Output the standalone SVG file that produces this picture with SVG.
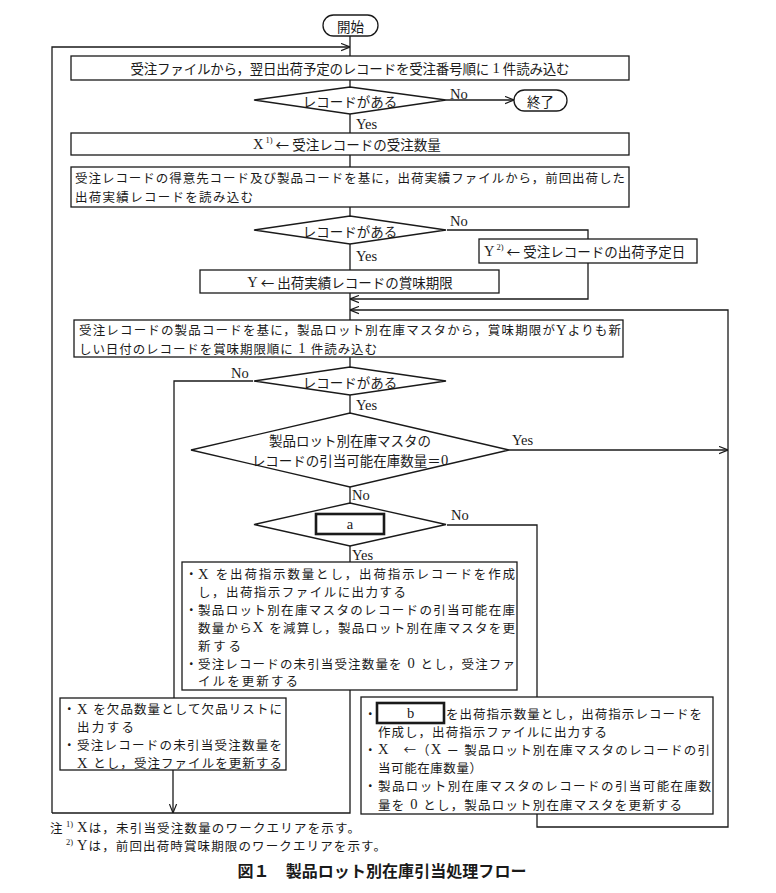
<svg xmlns="http://www.w3.org/2000/svg" width="776" height="893" viewBox="0 0 776 893">
<style>
.box{fill:#fff;stroke:#1a1a1a;stroke-width:1.3}
.thick{fill:#fff;stroke:#1a1a1a;stroke-width:2.6}
.ln{fill:none;stroke:#1a1a1a;stroke-width:1.3}
.t{font-family:"Noto Sans CJK JP","Liberation Sans",sans-serif;font-size:13.5px;fill:#1a1a1a;dominant-baseline:central}
.m{font-size:12.5px}
.c{text-anchor:middle}
.lat{font-family:"Liberation Serif",serif;font-size:14.5px}
.lbl{font-family:"Liberation Serif","Noto Sans CJK JP",serif;font-size:14.5px;fill:#1a1a1a;dominant-baseline:central}
.sup{font-family:"Liberation Serif",serif;font-size:8.5px}
.title{font-family:"Noto Sans CJK JP",sans-serif;font-size:16px;font-weight:bold;fill:#1a1a1a;text-anchor:middle;dominant-baseline:central}
</style>
<defs>
<marker id="arr" viewBox="0 0 10 10" refX="10" refY="5" markerWidth="9" markerHeight="9" orient="auto" markerUnits="userSpaceOnUse">
<path d="M0,1 L10,5 L0,9" fill="none" stroke="#1a1a1a" stroke-width="1.3"/>
</marker>
</defs>
<rect x="0" y="0" width="776" height="893" fill="#fff"/>

<g id="connectors">
<path class="ln" d="M350,36 V56"/>
<path class="ln" d="M52,813 V47 H350" marker-end="url(#arr)"/>
<path class="ln" d="M350,80 V87"/>
<path class="ln" d="M446,100 H514" marker-end="url(#arr)"/>
<path class="ln" d="M350,114 V133"/>
<path class="ln" d="M350,155 V167"/>
<path class="ln" d="M350,207 V216"/>
<path class="ln" d="M447,230 H588 V239"/>
<path class="ln" d="M588,263 V299 H350" marker-end="url(#arr)"/>
<path class="ln" d="M350,244 V270"/>
<path class="ln" d="M350,293 V320"/>
<path class="ln" d="M447,525 H537 V827 H728 V310 H350" marker-end="url(#arr)"/>
<path class="ln" d="M350,357 V367"/>
<path class="ln" d="M253,381 H174 V698"/>
<path class="ln" d="M350,395 V413"/>
<path class="ln" d="M509,450 H728" marker-end="url(#arr)"/>
<path class="ln" d="M350,487 V503"/>
<path class="ln" d="M350,546 V562"/>
<path class="ln" d="M350,690 V813 H52"/>
<path class="ln" d="M173,770 V813" marker-end="url(#arr)"/>
<text class="lbl" x="450" y="94">No</text>
<text class="lbl" x="356" y="124">Yes</text>
<text class="lbl" x="450" y="221">No</text>
<text class="lbl" x="356" y="256">Yes</text>
<text class="lbl" x="231" y="373">No</text>
<text class="lbl" x="356" y="405">Yes</text>
<text class="lbl" x="512" y="440">Yes</text>
<text class="lbl" x="352" y="495">No</text>
<text class="lbl" x="451" y="515">No</text>
<text class="lbl" x="352" y="555">Yes</text>
</g>

<g id="start">
<rect class="box" x="323" y="15" width="55" height="21" rx="10.5"/>
<text class="t c" x="350.5" y="25.5">開始</text>
</g>

<g id="read-order">
<rect class="box" x="71" y="56" width="558" height="24"/>
<text class="t c" x="350" y="68" textLength="439" lengthAdjust="spacing">受注ファイルから，翌日出荷予定のレコードを受注番号順に<tspan class="lat"> 1 </tspan>件読み込む</text>
</g>

<g id="dec-order">
<polygon class="box" points="254,100 350,87 446,100 350,114"/>
<text class="t c" x="350" y="100.5">レコードがある</text>
</g>

<g id="end">
<rect class="box" x="514" y="90" width="53" height="21" rx="10.5"/>
<text class="t c" x="540.5" y="100.5">終了</text>
</g>

<g id="set-x">
<rect class="box" x="71" y="133" width="558" height="22"/>
<text class="t" x="253" y="144"><tspan class="lat">X</tspan><tspan class="sup" dx="2" dy="-4">1)</tspan><tspan dy="4"> ← 受注レコードの受注数量</tspan></text>
</g>

<g id="read-ship">
<rect class="box" x="71" y="167" width="558" height="40"/>
<text class="t m" x="75" y="177.5" textLength="550" lengthAdjust="spacing">受注レコードの得意先コード及び製品コードを基に，出荷実績ファイルから，前回出荷した</text>
<text class="t m" x="75" y="196" textLength="178" lengthAdjust="spacing">出荷実績レコードを読み込む</text>
</g>

<g id="dec-ship">
<polygon class="box" points="254,230 350,216 446,230 350,244"/>
<text class="t c" x="350" y="230.5">レコードがある</text>
</g>

<g id="set-y2">
<rect class="box" x="479" y="239" width="218" height="24"/>
<text class="t" x="484" y="251"><tspan class="lat">Y</tspan><tspan class="sup" dx="2" dy="-4">2)</tspan><tspan dy="4"> ← 受注レコードの出荷予定日</tspan></text>
</g>

<g id="set-y">
<rect class="box" x="200" y="270" width="299" height="23"/>
<text class="t c" x="350" y="281.5"><tspan class="lat">Y</tspan> ← 出荷実績レコードの賞味期限</text>
</g>

<g id="read-lot">
<rect class="box" x="74" y="320" width="549" height="37"/>
<text class="t m" x="79" y="329.5" textLength="542" lengthAdjust="spacing">受注レコードの製品コードを基に，製品ロット別在庫マスタから，賞味期限が<tspan class="lat">Y</tspan>よりも新</text>
<text class="t m" x="79" y="348" textLength="298" lengthAdjust="spacing">しい日付のレコードを賞味期限順に<tspan class="lat"> 1 </tspan>件読み込む</text>
</g>

<g id="dec-lot">
<polygon class="box" points="254,381 350,367 446,381 350,395"/>
<text class="t c" x="350" y="381.5">レコードがある</text>
</g>

<g id="dec-zero">
<polygon class="box" points="191,450 350,413 509,450 350,487"/>
<text class="t c" x="350" y="440">製品ロット別在庫マスタの</text>
<text class="t c" x="350" y="460">レコードの引当可能在庫数量＝<tspan class="lat">0</tspan></text>
</g>

<g id="dec-a">
<polygon class="box" points="254,524.5 350,503 446,524.5 350,546"/>
<rect class="thick" x="316" y="514" width="68" height="20"/>
<text class="t c" x="350" y="524"><tspan class="lat">a</tspan></text>
</g>

<g id="alloc-full">
<rect class="box" x="182" y="562" width="335" height="128"/>
<text class="t m" x="185" y="573.5">・</text>
<text class="t m" x="198" y="573.5" textLength="317" lengthAdjust="spacing"><tspan class="lat">X </tspan>を出荷指示数量とし，出荷指示レコードを作成</text>
<text class="t m" x="198" y="591.4" textLength="208" lengthAdjust="spacing">し，出荷指示ファイルに出力する</text>
<text class="t m" x="185" y="609.3">・</text>
<text class="t m" x="198" y="609.3" textLength="317" lengthAdjust="spacing">製品ロット別在庫マスタのレコードの引当可能在庫</text>
<text class="t m" x="198" y="627.2" textLength="317" lengthAdjust="spacing">数量から<tspan class="lat">X </tspan>を減算し，製品ロット別在庫マスタを更</text>
<text class="t m" x="198" y="645.1" textLength="43" lengthAdjust="spacing">新する</text>
<text class="t m" x="185" y="663">・</text>
<text class="t m" x="198" y="663" textLength="317" lengthAdjust="spacing">受注レコードの未引当受注数量を<tspan class="lat"> 0 </tspan>とし，受注ファ</text>
<text class="t m" x="198" y="680.9" textLength="100" lengthAdjust="spacing">イルを更新する</text>
</g>

<g id="shortage">
<rect class="box" x="60" y="698" width="226" height="72"/>
<text class="t m" x="63" y="708.5">・</text>
<text class="t m" x="77" y="708.5" textLength="205" lengthAdjust="spacing"><tspan class="lat">X </tspan>を欠品数量として欠品リストに</text>
<text class="t m" x="77" y="726.6" textLength="57" lengthAdjust="spacing">出力する</text>
<text class="t m" x="63" y="744.7">・</text>
<text class="t m" x="77" y="744.7" textLength="205" lengthAdjust="spacing">受注レコードの未引当受注数量を</text>
<text class="t m" x="77" y="762.8" textLength="205" lengthAdjust="spacing"><tspan class="lat">X </tspan>とし，受注ファイルを更新する</text>
</g>

<g id="alloc-partial">
<rect class="box" x="361" y="697" width="352" height="117"/>
<text class="t m" x="364" y="713">・</text>
<rect class="thick" x="377" y="703" width="67" height="20"/>
<text class="t c" x="410.5" y="713"><tspan class="lat">b</tspan></text>
<text class="t m" x="446" y="713" textLength="256" lengthAdjust="spacing">を出荷指示数量とし，出荷指示レコードを</text>
<text class="t m" x="378" y="731.2" textLength="229" lengthAdjust="spacing">作成し，出荷指示ファイルに出力する</text>
<text class="t m" x="364" y="749.4">・</text>
<text class="t m" x="378" y="749.4" textLength="332" lengthAdjust="spacing"><tspan class="lat">X</tspan>　←（<tspan class="lat">X</tspan> － 製品ロット別在庫マスタのレコードの引</text>
<text class="t m" x="378" y="767.6" textLength="104" lengthAdjust="spacing">当可能在庫数量）</text>
<text class="t m" x="364" y="785.8">・</text>
<text class="t m" x="378" y="785.8" textLength="333" lengthAdjust="spacing">製品ロット別在庫マスタのレコードの引当可能在庫数</text>
<text class="t m" x="378" y="804" textLength="304" lengthAdjust="spacing">量を<tspan class="lat"> 0 </tspan>とし，製品ロット別在庫マスタを更新する</text>
</g>

<g id="notes">
<text class="t m" x="50" y="827">注</text>
<text class="t sup" x="66" y="823.5">1)</text>
<text class="t m" x="77" y="827" textLength="283" lengthAdjust="spacing"><tspan class="lat">X</tspan>は，未引当受注数量のワークエリアを示す。</text>
<text class="t sup" x="66" y="841.5">2)</text>
<text class="t m" x="77" y="845" textLength="309" lengthAdjust="spacing"><tspan class="lat">Y</tspan>は，前回出荷時賞味期限のワークエリアを示す。</text>
<text class="title" x="382" y="870" textLength="289" lengthAdjust="spacing">図１　製品ロット別在庫引当処理フロー</text>
</g>
</svg>
